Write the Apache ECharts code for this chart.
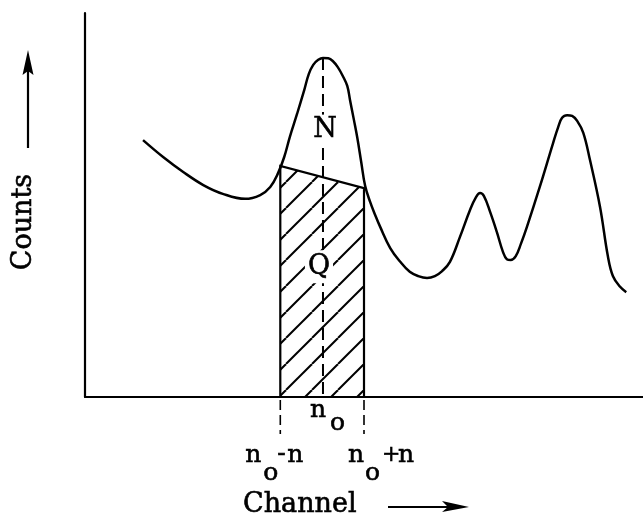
<!DOCTYPE html>
<html><head><meta charset="utf-8">
<script src="https://cdn.jsdelivr.net/npm/echarts@6/dist/echarts.min.js"></script>
<style>html,body{margin:0;padding:0;background:#fff}#c{width:643px;height:529px}</style>
</head><body><div id="c"></div><script>
// spectrum curve (channel, counts)
const channel = [10.4,14.0,17.6,21.2,24.7,28.7,31.4,33.2,34.6,35.7,36.7,38.0,39.3,40.1,40.9,41.8,42.65,43.6,44.4,45.3,46.2,47.0,47.5,48.2,48.8,49.5,50.2,51.1,52.0,52.9,54.7,56.5,58.2,59.7,61.3,62.7,64.0,65.4,67.2,69.0,70.1,70.8,71.5,72.6,73.8,74.9,75.6,76.3,77.2,78.1,79.2,81.5,83.9,84.8,85.5,86.4,87.3,88.2,89.3,90.5,92.3,93.7,94.6,95.9,97.0];
const counts  = [66.9,62.5,58.6,55.2,52.9,51.6,52.6,54.7,58.3,62.5,67.7,73.7,80.0,84.1,86.5,87.8,88.3,88.2,87.5,85.9,83.6,81.0,77.3,72.1,67.5,61.2,55.0,50.8,47.4,44.3,38.8,35.2,32.6,31.5,31.0,31.5,32.8,35.2,41.7,48.7,52.1,53.1,52.3,48.2,43.0,37.8,35.9,35.7,36.7,39.8,44.3,54.7,66.2,70.3,72.7,73.4,73.2,71.9,68.8,61.7,49.5,36.7,31.5,28.7,27.3];
// integration window: n0-n, n0, n0+n
const windowChannels = [35.0, 42.65, 50.0];
// background (baseline) counts at the window edges
const baselineCounts = [60.2, 54.4];
const peakCounts = 88.3;
const areaLabels = ['N', 'Q'];
const areaLabelCounts = [69.5, 33.9];
const xAxisTitle = 'Channel';
const yAxisTitle = 'Counts';

const FONT = 'DejaVu Serif';
const tile = document.createElement('canvas');
const S = 26; tile.width = S; tile.height = S;
const g = tile.getContext('2d');
g.strokeStyle = '#000'; g.lineWidth = 2;
for (let k = -1; k <= 1; k++) { g.beginPath(); g.moveTo(k*S, S); g.lineTo(k*S + S, 0); g.stroke(); }

const chart = echarts.init(document.getElementById('c'), null, {renderer: 'canvas'});
const curve = channel.map((c, i) => [c, counts[i]]);

function tstyle(text, size, align) {
  return {text: text, font: size + 'px "' + FONT + '"', fill: '#000', align: align || 'left', verticalAlign: 'middle', stroke: '#000', lineWidth: 0.6};
}
function txt(x, y, text, size, align, bg, pad) {
  const st = tstyle(text, size, align);
  if (bg) { st.backgroundColor = bg; st.padding = pad; }
  return {type: 'text', x: x, y: y, style: st};
}

chart.setOption({
  animation: false,
  backgroundColor: '#fff',
  grid: {left: 85, right: 0, top: 13, bottom: 132},
  xAxis: {type: 'value', min: 0, max: 100, axisLine: {show: true, lineStyle: {color: '#000', width: 2.2}}, axisTick: {show: false}, axisLabel: {show: false}, splitLine: {show: false}},
  yAxis: {type: 'value', min: 0, max: 100, axisLine: {show: true, lineStyle: {color: '#000', width: 2.2}}, axisTick: {show: false}, axisLabel: {show: false}, splitLine: {show: false}},
  series: [
    {
      type: 'custom', z: 1, clip: false,
      data: [[windowChannels[0], baselineCounts[0], windowChannels[2], baselineCounts[1]]],
      encode: {x: [0, 2], y: [1, 3]},
      renderItem: function (params, api) {
        const xL = api.value(0), yL = api.value(1), xR = api.value(2), yR = api.value(3);
        const pts = [api.coord([xL, 0]), api.coord([xL, yL]), api.coord([xR, yR]), api.coord([xR, 0])];
        return {type: 'polygon', shape: {points: pts}, style: {fill: {image: tile, repeat: 'repeat'}, stroke: '#000', lineWidth: 2.2, lineJoin: 'miter'}};
      }
    },
    {
      type: 'line', z: 2, data: curve, smooth: 0.4, showSymbol: false, symbol: 'none',
      lineStyle: {color: '#000', width: 2.5}
    },
    {
      type: 'custom', z: 3, clip: false,
      data: [[windowChannels[1], peakCounts]],
      encode: {x: 0, y: 1},
      renderItem: function (params, api) {
        const n0 = api.value(0), pk = api.value(1);
        const top = api.coord([n0, pk]), bot = api.coord([n0, 0]);
        const l0 = api.coord([windowChannels[0], 0]), r0 = api.coord([windowChannels[2], 0]);
        const ch = [];
        ch.push({type: 'line', shape: {x1: top[0], y1: top[1], x2: bot[0], y2: bot[1]}, style: {stroke: '#000', lineWidth: 2, lineDash: [12, 6]}});
        ch.push({type: 'line', shape: {x1: l0[0], y1: l0[1] + 3, x2: l0[0], y2: l0[1] + 37}, style: {stroke: '#000', lineWidth: 1.6, lineDash: [10, 5]}});
        ch.push({type: 'line', shape: {x1: r0[0], y1: r0[1] + 3, x2: r0[0], y2: r0[1] + 37}, style: {stroke: '#000', lineWidth: 1.6, lineDash: [10, 5]}});
        const pN = api.coord([n0, areaLabelCounts[0]]);
        const pQ = api.coord([n0, areaLabelCounts[1]]);
        ch.push(txt(pN[0] + 2, pN[1], areaLabels[0], 27, 'center', '#fff', [2, 1]));
        ch.push(txt(pQ[0] - 4, pQ[1], areaLabels[1], 27, 'center', '#fff', [3, 3]));
        // n_o under axis
        ch.push(txt(bot[0] - 13, bot[1] + 13, 'n', 25));
        ch.push(txt(bot[0] + 7, bot[1] + 26, 'o', 25));
        // n_o - n
        ch.push(txt(l0[0] - 35, l0[1] + 58, 'n', 25));
        ch.push(txt(l0[0] - 17, l0[1] + 76, 'o', 25));
        ch.push(txt(l0[0] - 3, l0[1] + 57, '-', 25));
        ch.push(txt(l0[0] + 7, l0[1] + 58, 'n', 25));
        // n_o + n
        ch.push(txt(r0[0] - 16, r0[1] + 58, 'n', 25));
        ch.push(txt(r0[0] + 1, r0[1] + 76, 'o', 25));
        ch.push(txt(r0[0] + 18, r0[1] + 58, '+', 22));
        ch.push(txt(r0[0] + 34, r0[1] + 58, 'n', 25));
        return {type: 'group', children: ch};
      }
    }
  ],
  graphic: [
    {type: 'text', x: 243, y: 505, style: tstyle(xAxisTitle, 27, 'left')},
    {type: 'line', shape: {x1: 388, y1: 507, x2: 455, y2: 507}, style: {stroke: '#000', lineWidth: 2}},
    {type: 'polygon', shape: {points: [[469, 507], [442, 501], [448, 507], [442, 512]]}, style: {fill: '#000'}},
    {type: 'text', x: 24, y: 222, rotation: Math.PI / 2, style: tstyle(yAxisTitle, 27, 'center')},
    {type: 'line', shape: {x1: 28, y1: 148, x2: 28, y2: 68}, style: {stroke: '#000', lineWidth: 2.2}},
    {type: 'polygon', shape: {points: [[28, 50], [22.5, 75], [28, 71], [33.5, 75]]}, style: {fill: '#000'}}
  ]
});
</script></body></html>
